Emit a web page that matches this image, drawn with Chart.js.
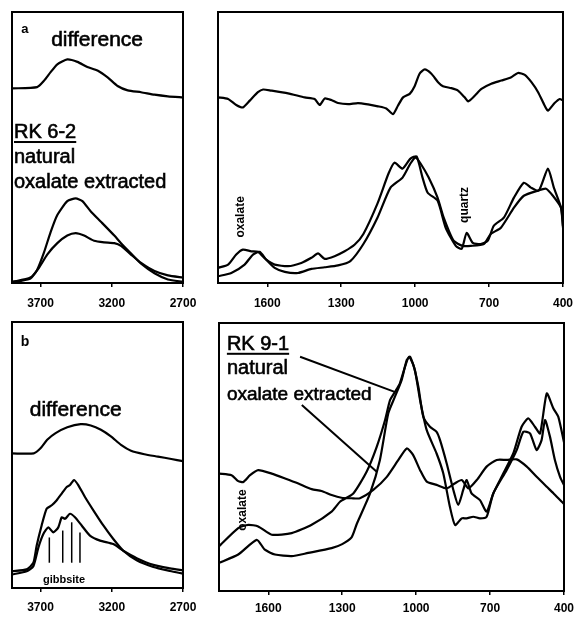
<!DOCTYPE html>
<html>
<head>
<meta charset="utf-8">
<script src="https://cdn.jsdelivr.net/npm/chart.js@4.4.0/dist/chart.umd.min.js"></script>
<style>
  html, body { margin: 0; background: #fff; overflow: hidden; }
  canvas { position: absolute; }
</style>
</head>
<body>
<canvas id="tl" width="206" height="320" style="left:0;top:0"></canvas>
<canvas id="tr" width="382" height="320" style="left:200px;top:0"></canvas>
<canvas id="bl" width="206" height="305" style="left:0;top:312px"></canvas>
<canvas id="br" width="381" height="305" style="left:200px;top:312px"></canvas>
<script>
// tick labels
var ticksOH = [3700, 3200, 2700];
var ticksFP = [1600, 1300, 1000, 700, 400];

// a - RK 6-2, OH region
var tlDiffX = [3900,3724,3676,3629,3582,3512,3441,3371,3300,3229,3159,3088,2994,2900,2806,2700];
var tlDiffY = [71.8,72.3,74.6,77.8,80.7,82.5,81.6,79.7,78.4,75.9,72.7,71.1,70.4,69.5,68.9,68.5];
var tlNatX = [3900,3841,3771,3724,3676,3629,3582,3512,3453,3406,3347,3276,3182,3135,3065,2994,2900,2806,2700];
var tlNatY = [0.4,0.8,1.6,4.8,11.2,18.8,25.1,30.2,31.2,30.2,26.4,22.6,17.5,14.7,10.9,7.1,3.6,1.3,0.4];
var tlExtX = [3900,3771,3712,3653,3582,3512,3453,3394,3324,3253,3182,3135,3065,2994,2900,2806,2700];
var tlExtY = [0.4,2.0,5.5,10.5,14.7,17.5,18.4,17.5,15.6,15.0,14.7,13.7,10.5,7.4,4.4,2.8,2.0];

// a - RK 6-2, fingerprint region
var trDiffX = [1800,1759,1726,1699,1671,1638,1617,1584,1516,1448,1408,1387,1367,1340,1313,1272,1232,1191,1151,1117,1090,1070,1049,1022,1002,982,961,934,907,887,853,826,799,785,758,731,691,650,610,583,555,528,501,474,461,434,413,400];
var trDiffY = [68.5,67.9,65.7,64.8,67.3,70.4,71.4,71.0,70.0,68.5,67.9,65.7,68.1,67.5,66.4,66.0,66.4,65.9,65.2,64.4,62.3,65.4,68.5,69.8,72.6,77.2,78.8,77.2,74.1,72.6,71.9,71.0,68.5,67.0,69.1,71.6,73.5,74.7,75.9,77.5,76.8,74.1,70.4,65.4,63.6,66.4,67.9,67.3];
var trNatX = [1800,1759,1726,1699,1665,1638,1604,1570,1516,1462,1421,1394,1367,1327,1286,1245,1210,1153,1108,1084,1051,1019,994,970,949,909,876,835,811,791,766,734,705,681,640,599,559,530,498,461,437,408,400];
var trNatY = [5.6,6.8,10.5,12.3,11.7,11.5,8.6,6.8,6.2,7.4,9.3,10.9,8.9,9.9,11.7,14.2,18.1,29.3,40.4,44.4,42.2,45.9,46.7,38.9,33.3,30.4,20.4,13.7,12.6,18.5,14.8,14.4,15.6,21.1,24.1,31.5,37.0,35.2,34.1,42.2,35.2,27.8,20.4];
var trExtX = [1800,1746,1692,1658,1631,1604,1570,1529,1475,1421,1367,1313,1263,1210,1153,1100,1051,1019,998,978,945,909,884,844,807,774,721,693,652,599,559,502,469,441,408,400];
var trExtY = [2.5,3.7,6.8,10.5,11.5,8.6,5.6,4.1,3.7,5.2,5.8,6.5,8.1,14.4,24.1,35.2,38.9,44.1,46.3,44.1,38.9,31.5,24.1,15.6,13.7,13.7,14.4,18.1,20.4,27.8,32.2,34.1,34.8,32.2,27.8,21.1];

// b - RK 9-1, OH region
var blDiffX = [3900,3747,3700,3653,3594,3512,3418,3347,3276,3206,3135,3065,2971,2876,2782,2700];
var blDiffY = [50.6,50.6,52.5,55.7,58.2,60.4,61.6,61.1,59.5,57.0,53.8,51.6,50.3,49.4,48.5,47.7];
var blNatX = [3900,3797,3750,3727,3692,3657,3621,3586,3551,3516,3493,3465,3435,3388,3329,3259,3189,3119,3025,2908,2791,2700];
var blNatY = [6.3,7.0,9.5,15.9,23.5,29.8,31.1,33.0,35.5,38.0,38.7,40.6,38.7,34.2,29.2,23.5,18.4,14.0,10.4,7.9,6.4,5.4];
var blExtX = [3900,3797,3750,3715,3680,3645,3610,3575,3551,3528,3493,3458,3411,3353,3282,3189,3119,3025,2908,2791,2700];
var blExtY = [5.1,6.3,8.2,15.2,20.3,22.8,20.9,22.8,26.6,26.0,27.9,26.6,23.5,19.7,17.8,16.5,14.0,11.2,8.7,7.4,6.6];
var gibbsiteX = [3638, 3544, 3481, 3423];
var gibbsiteTop = [19.0, 21.6, 24.7, 20.9];

// b - RK 9-1, fingerprint region
var brDiffX = [1800,1749,1722,1701,1674,1641,1586,1532,1478,1424,1384,1343,1303,1262,1228,1174,1119,1072,1038,1012,984,957,917,876,842,815,788,754,714,673,632,592,551,511,470,443,409,400];
var brDiffY = [43.8,43.2,41.0,40.7,43.2,45.1,43.8,42.0,40.1,38.0,37.3,35.8,34.8,34.6,34.6,37.7,42.6,48.9,53.2,50.7,45.1,40.8,39.6,38.3,40.2,41.4,38.3,41.4,46.4,48.9,48.9,49.1,46.4,42.6,38.9,36.5,33.3,32.5];
var brNatX = [1800,1722,1681,1641,1586,1505,1424,1343,1309,1255,1201,1160,1126,1106,1086,1066,1045,1029,1011,991,971,944,917,903,876,849,829,809,795,775,741,714,687,646,606,572,545,518,497,470,443,423,400];
var brNatY = [16.7,23.5,24.7,24.1,21.0,21.6,24.7,29.6,33.3,36.4,44.5,53.8,63.8,71.2,74.3,77.5,83.7,87.4,84.3,76.2,65.0,61.3,59.4,56.3,47.6,37.7,32.1,37.7,41.4,36.4,33.9,29.6,36.4,43.9,51.3,61.3,64.4,61.3,58.8,73.7,68.1,65.0,55.5];
var brExtX = [1800,1722,1647,1614,1573,1505,1438,1343,1300,1262,1241,1187,1147,1113,1086,1059,1038,1025,1005,984,957,917,890,863,842,815,795,768,741,714,687,633,592,565,538,511,491,477,457,437,416,400];
var brExtY = [10.5,13.6,19.1,15.4,13.6,13.0,14.2,16.0,17.5,20.0,25.0,36.4,48.9,66.3,72.5,78.7,86.2,87.4,82.4,71.2,60.0,51.3,43.9,31.4,24.6,27.1,27.1,27.7,27.1,27.7,36.4,45.1,52.6,59.4,58.8,52.6,56.3,63.8,57.6,48.9,42.6,39.5];

var FONT = "'Liberation Sans', Arial, sans-serif";

function pts(xs, ys) {
  return xs.map(function (x, i) { return { x: x, y: ys[i] }; });
}

function curve(xs, ys) {
  return { data: pts(xs, ys), borderColor: '#000', borderWidth: 2.2, pointRadius: 0, tension: 0.2, fill: false };
}

// labels and pointer lines, placed in data units
var notes = {
  tl: [
    { text: 'a', x: 3809, y: 93.7, font: 'bold 13px ' + FONT, align: 'center', base: 'middle' },
    { text: 'difference', x: 3303, y: 87.5, font: '21px ' + FONT, align: 'center', heavy: true },
    { text: 'RK 6-2', x: 3886, y: 53.5, font: '20px ' + FONT, under: true, heavy: true },
    { text: 'natural', x: 3886, y: 44.3, font: '20px ' + FONT, heavy: true },
    { text: 'oxalate extracted', x: 3886, y: 35.1, font: '20px ' + FONT, heavy: true }
  ],
  tr: [
    { text: 'oxalate', x: 1707, y: 24.4, font: 'bold 12px ' + FONT, align: 'center', base: 'middle', rot: -Math.PI / 2 },
    { text: 'quartz', x: 798, y: 28.8, font: 'bold 12px ' + FONT, align: 'center', base: 'middle', rot: -Math.PI / 2 }
  ],
  bl: [
    { text: 'b', x: 3809, y: 92.5, font: 'bold 14px ' + FONT, align: 'center', base: 'middle' },
    { text: 'difference', x: 3453, y: 64.6, font: '21px ' + FONT, align: 'center', heavy: true },
    { text: 'gibbsite', x: 3535, y: 3.0, font: 'bold 11px ' + FONT, align: 'center', base: 'middle' }
  ],
  br: [
    { text: 'RK 9-1', x: 1768, y: 90.0, font: '20px ' + FONT, under: true, heavy: true },
    { text: 'natural', x: 1768, y: 81.0, font: '20px ' + FONT, heavy: true },
    { text: 'oxalate extracted', x: 1768, y: 71.3, font: '19px ' + FONT, heavy: true },
    { text: 'oxalate', x: 1703, y: 30.2, font: 'bold 12px ' + FONT, align: 'center', base: 'middle', rot: -Math.PI / 2 },
    { line: [1471, 87.4, 1090, 74.4] },
    { line: [1464, 69.4, 1160, 44.5] }
  ]
};
gibbsiteX.forEach(function (g, i) {
  notes.bl.push({ line: [g, 9.5, g, gibbsiteTop[i]], w: 1.5 });
});

var framePlugin = {
  id: 'frame',
  afterDraw: function (chart) {
    var a = chart.chartArea, ctx = chart.ctx;
    var sx = chart.scales.x, sy = chart.scales.y;
    ctx.save();
    ctx.strokeStyle = '#000';
    ctx.fillStyle = '#000';
    ctx.lineWidth = 2;
    ctx.strokeRect(a.left, a.top, a.right - a.left, a.bottom - a.top);
    (notes[chart.canvas.id] || []).forEach(function (n) {
      if (n.line) {
        ctx.lineWidth = n.w || 2;
        ctx.beginPath();
        ctx.moveTo(sx.getPixelForValue(n.line[0]), sy.getPixelForValue(n.line[1]));
        ctx.lineTo(sx.getPixelForValue(n.line[2]), sy.getPixelForValue(n.line[3]));
        ctx.stroke();
        return;
      }
      ctx.save();
      ctx.translate(sx.getPixelForValue(n.x), sy.getPixelForValue(n.y));
      if (n.rot) ctx.rotate(n.rot);
      ctx.font = n.font;
      ctx.textAlign = n.align || 'left';
      ctx.textBaseline = n.base || 'alphabetic';
      ctx.fillText(n.text, 0, 0);
      // scanned print looks a bit heavier than plain regular
      if (n.heavy) { ctx.lineWidth = 0.6; ctx.strokeText(n.text, 0, 0); }
      if (n.under) ctx.fillRect(0, 3, ctx.measureText(n.text).width, 2);
      ctx.restore();
    });
    ctx.restore();
  }
};

function makePanel(id, sets, xmin, xmax, ticks, pad, axisH, tickPad) {
  new Chart(document.getElementById(id), {
    type: 'line',
    data: { datasets: sets },
    options: {
      responsive: false,
      animation: false,
      events: [],
      layout: { padding: pad },
      plugins: { legend: { display: false }, tooltip: { enabled: false } },
      scales: {
        x: {
          type: 'linear', reverse: true, min: xmin, max: xmax,
          afterBuildTicks: function (s) { s.ticks = ticks.map(function (v) { return { value: v }; }); },
          afterFit: function (s) { s.height = axisH; },
          grid: { drawOnChartArea: false, drawTicks: true, tickLength: 4, color: '#000', lineWidth: 1.5 },
          border: { display: false },
          ticks: { padding: tickPad, color: '#000', maxRotation: 0, autoSkip: false,
                   callback: function (v) { return String(v); },
                   font: { family: FONT, size: 12, weight: 'bold' } }
        },
        y: { display: false, min: 0, max: 100 }
      }
    },
    plugins: [framePlugin]
  });
}

makePanel('tl', [curve(tlDiffX, tlDiffY), curve(tlNatX, tlNatY), curve(tlExtX, tlExtY)],
  2700, 3900, ticksOH, { left: 12, top: 12, right: 23 }, 37, 9);
makePanel('tr', [curve(trDiffX, trDiffY), curve(trNatX, trNatY), curve(trExtX, trExtY)],
  400, 1800, ticksFP, { left: 18, top: 12, right: 19 }, 37, 9);
makePanel('bl', [curve(blDiffX, blDiffY), curve(blNatX, blNatY), curve(blExtX, blExtY)],
  2700, 3900, ticksOH, { left: 12, top: 10, right: 23 }, 29, 8);
makePanel('br', [curve(brDiffX, brDiffY), curve(brNatX, brNatY), curve(brExtX, brExtY)],
  400, 1800, ticksFP, { left: 19, top: 11, right: 17 }, 26, 6);
</script>
</body>
</html>
